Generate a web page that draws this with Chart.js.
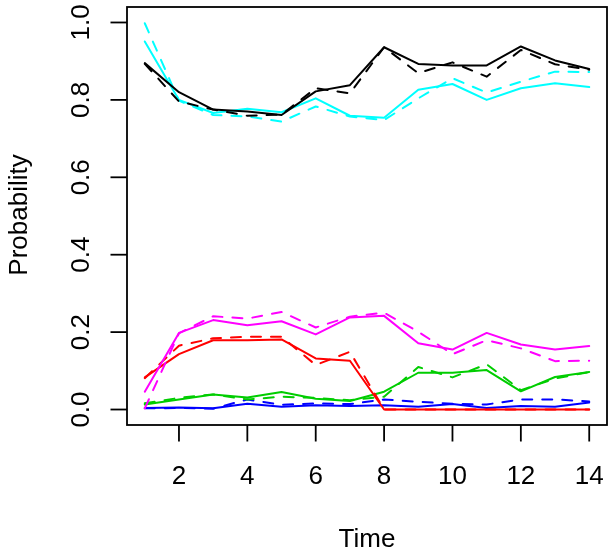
<!DOCTYPE html>
<html>
<head>
<meta charset="utf-8">
<script src="https://cdn.jsdelivr.net/npm/chart.js@4/dist/chart.umd.min.js"></script>
<style>
  html, body { margin: 0; padding: 0; background: #fff; }
  #wrap { width: 608px; height: 553px; }
</style>
</head>
<body>
<div id="wrap"><canvas id="c" width="608" height="553"></canvas></div>
<script>
// ---- data ----
const time = [1,2,3,4,5,6,7,8,9,10,11,12,13,14];
const blackSolid   = [0.895,0.820,0.775,0.770,0.761,0.822,0.838,0.936,0.893,0.889,0.889,0.938,0.902,0.880];
const blackDashed  = [0.893,0.796,0.775,0.759,0.762,0.830,0.817,0.936,0.869,0.897,0.860,0.929,0.892,0.878];
const cyanSolid    = [0.951,0.800,0.766,0.777,0.768,0.804,0.759,0.754,0.826,0.841,0.800,0.830,0.843,0.833];
const cyanDashed   = [0.998,0.798,0.761,0.757,0.744,0.783,0.757,0.748,0.804,0.856,0.819,0.847,0.873,0.872];
const magentaSolid = [0.046,0.198,0.231,0.218,0.228,0.194,0.238,0.242,0.171,0.155,0.198,0.168,0.155,0.164];
const magentaDashed= [0.003,0.197,0.241,0.235,0.252,0.212,0.240,0.250,0.201,0.143,0.179,0.158,0.125,0.126];
const redSolid     = [0.083,0.143,0.179,0.179,0.181,0.132,0.126,0,0,0,0,0,0,0];
const redDashed    = [0.081,0.165,0.184,0.188,0.188,0.115,0.149,0,0,0,0,0,0,0];
const greenSolid   = [0.013,0.026,0.039,0.031,0.045,0.028,0.022,0.046,0.095,0.095,0.102,0.047,0.084,0.097];
const greenDashed  = [0.016,0.030,0.039,0.026,0.033,0.030,0.024,0.033,0.110,0.083,0.117,0.050,0.080,0.097];
const blueSolid    = [0.004,0.005,0.003,0.015,0.007,0.011,0.009,0.011,0.007,0.014,0.004,0.009,0.007,0.018];
const blueDashed   = [0.003,0.004,0.002,0.026,0.012,0.016,0.014,0.026,0.020,0.015,0.013,0.026,0.026,0.021];

const xTicks = [2,4,6,8,10,12,14];
const xTickLabels = ["2","4","6","8","10","12","14"];
const yTicks = [0,0.2,0.4,0.6,0.8,1.0];
const yTickLabels = ["0.0","0.2","0.4","0.6","0.8","1.0"];
const xTitle = "Time";
const yTitle = "Probability";

// ---- build ----
const FONT = '26px "Liberation Sans", Arial, Helvetica, sans-serif';
const DASH = [10, 10];
function series(vals, color, dashed) {
  return {
    data: time.map((t, i) => ({ x: t, y: vals[i] })),
    borderColor: color,
    backgroundColor: color,
    borderWidth: 2,
    borderDash: dashed ? DASH : [],
    borderCapStyle: 'round',
    borderJoinStyle: 'round',
    pointRadius: 0,
    pointHoverRadius: 0,
    tension: 0,
    fill: false
  };
}

const axesPlugin = {
  id: 'rAxes',
  afterDraw(chart) {
    const ctx = chart.ctx;
    const a = chart.chartArea;
    const xs = chart.scales.x, ys = chart.scales.y;
    ctx.save();
    ctx.strokeStyle = '#000';
    ctx.fillStyle = '#000';
    ctx.lineWidth = 1.8;
    ctx.lineCap = 'butt';
    // box
    ctx.strokeRect(a.left, a.top, a.right - a.left, a.bottom - a.top);
    ctx.font = FONT;
    // x ticks
    ctx.textAlign = 'center';
    ctx.textBaseline = 'alphabetic';
    xTicks.forEach((v, i) => {
      const px = xs.getPixelForValue(v);
      ctx.beginPath();
      ctx.moveTo(px, a.bottom);
      ctx.lineTo(px, a.bottom + 16.5);
      ctx.stroke();
      ctx.fillText(xTickLabels[i], px, a.bottom + 58.5);
    });
    // y ticks
    yTicks.forEach((v, i) => {
      const py = ys.getPixelForValue(v);
      ctx.beginPath();
      ctx.moveTo(a.left - 16.5, py);
      ctx.lineTo(a.left, py);
      ctx.stroke();
      ctx.save();
      ctx.translate(a.left - 38, py);
      ctx.rotate(-Math.PI / 2);
      ctx.fillText(yTickLabels[i], 0, 0);
      ctx.restore();
    });
    // titles
    ctx.fillText(xTitle, (a.left + a.right) / 2, a.bottom + 122);
    ctx.save();
    ctx.translate(26.7, (a.top + a.bottom) / 2 - 1);
    ctx.rotate(-Math.PI / 2);
    ctx.fillText(yTitle, 0, 0);
    ctx.restore();
    ctx.restore();
  }
};

new Chart(document.getElementById('c'), {
  type: 'line',
  data: {
    datasets: [
      series(blackSolid, '#000000', false),
      series(blackDashed, '#000000', true),
      series(cyanSolid, '#00FFFF', false),
      series(cyanDashed, '#00FFFF', true),
      series(magentaSolid, '#FF00FF', false),
      series(magentaDashed, '#FF00FF', true),
      series(redSolid, '#FF0000', false),
      series(redDashed, '#FF0000', true),
      series(greenSolid, '#00CD00', false),
      series(greenDashed, '#00CD00', true),
      series(blueSolid, '#0000FF', false),
      series(blueDashed, '#0000FF', true)
    ]
  },
  options: {
    responsive: false,
    animation: false,
    devicePixelRatio: 1,
    layout: { padding: { left: 127, top: 7, right: 1, bottom: 128 } },
    plugins: { legend: { display: false }, tooltip: { enabled: false } },
    events: [],
    scales: {
      x: { type: 'linear', min: 0.48, max: 14.52, display: false },
      y: { type: 'linear', min: -0.04, max: 1.04, display: false }
    }
  },
  plugins: [axesPlugin]
});
</script>
</body>
</html>
